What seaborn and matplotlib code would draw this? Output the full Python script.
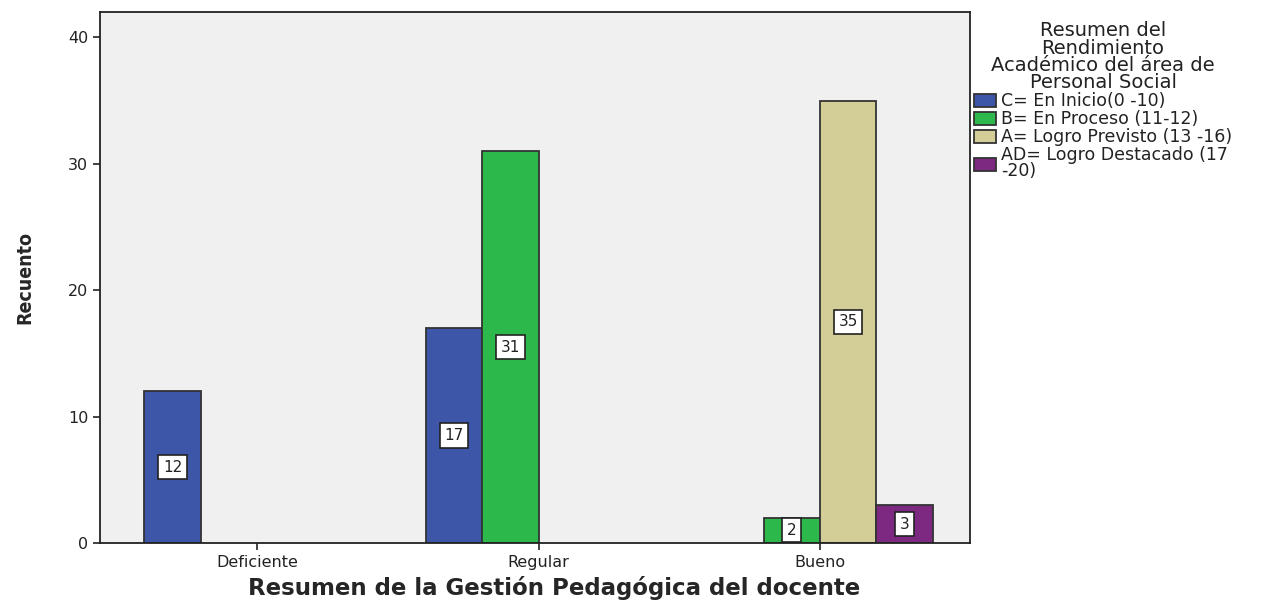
import numpy as np
import pandas as pd
import matplotlib
matplotlib.use("Agg")
import matplotlib.pyplot as plt
import seaborn as sns

# categories of the x axis and legend groups
gestion = ["Deficiente", "Regular", "Bueno"]
niveles = ["C= En Inicio(0 -10)", "B= En Proceso (11-12)",
           "A= Logro Previsto (13 -16)", "AD= Logro Destacado (17 -20)"]

# counts (only the bars that appear)
bar_gestion = ["Deficiente", "Regular", "Regular", "Bueno", "Bueno", "Bueno"]
bar_nivel = [niveles[0], niveles[0], niveles[1], niveles[1], niveles[2], niveles[3]]
bar_recuento = [12, 17, 31, 2, 35, 3]

yticks = [0, 10, 20, 30, 40]

colores = ["#3D56A8", "#2DB84B", "#D3CE98", "#7D2981"]

df = pd.DataFrame({"gestion": bar_gestion, "nivel": bar_nivel, "recuento": bar_recuento})

sns.set_theme(style="ticks")
plt.rcParams["font.family"] = ["DejaVu Sans"]

fig = plt.figure(figsize=(12.83, 6.05), dpi=100)
ax = fig.add_axes([100 / 1283, 1 - 543 / 605, 870 / 1283, 531 / 605])
ax.set_facecolor("#F0F0F0")

sns.barplot(data=df, x="gestion", y="recuento", hue="nivel",
            order=gestion, hue_order=niveles,
            palette=dict(zip(niveles, colores)), saturation=1,
            width=0.8, dodge=True, edgecolor="#333333", linewidth=1.3,
            errorbar=None, ax=ax)

for cont in ax.containers:
    ax.bar_label(cont, label_type="center", fontsize=11, color="#222222",
                 bbox=dict(boxstyle="square,pad=0.3", fc="white", ec="#222222", lw=1.2))

ax.set_xlim(-0.558, 2.533)
ax.set_ylim(0, 42)
ax.set_yticks(yticks)
ax.tick_params(axis="both", length=5, width=1.2, color="#222222",
               labelsize=11.5, labelcolor="#222222")
for sp in ax.spines.values():
    sp.set_visible(True)
    sp.set_color("#222222")
    sp.set_linewidth(1.3)

ax.set_ylabel("Recuento", fontsize=14, fontweight="bold",
              fontstretch="condensed")
ax.yaxis.set_label_coords(-0.075, 0.5)
ax.set_xlabel("Resumen de la Gestión Pedagógica del docente", fontsize=16.5,
              fontweight="bold")
ax.xaxis.set_label_coords(0.522, -0.062)

handles, labels = ax.get_legend_handles_labels()
labels = ["C= En Inicio(0 -10)", "B= En Proceso (11-12)",
          "A= Logro Previsto (13 -16)", "AD= Logro Destacado (17\n-20)"]
ax.legend(handles, labels,
          title="Resumen del\nRendimiento\nAcadémico del área de\nPersonal Social",
          loc="upper left", bbox_to_anchor=(974 / 1283, 1 - 21 / 605),
          bbox_transform=fig.transFigure, frameon=False, borderpad=0,
          borderaxespad=0, fontsize=12.5, title_fontsize=14,
          handlelength=1.25, handleheight=0.75, handletextpad=0.3,
          labelspacing=0.0, alignment="center")
leg = ax.get_legend()
leg.get_title().set_multialignment("center")
leg.get_title().set_linespacing(0.9)
leg.get_title().set_color("#222222")
for t in leg.get_texts():
    t.set_color("#222222")
    t.set_linespacing(0.82)

fig.savefig("out.png", dpi=100)
